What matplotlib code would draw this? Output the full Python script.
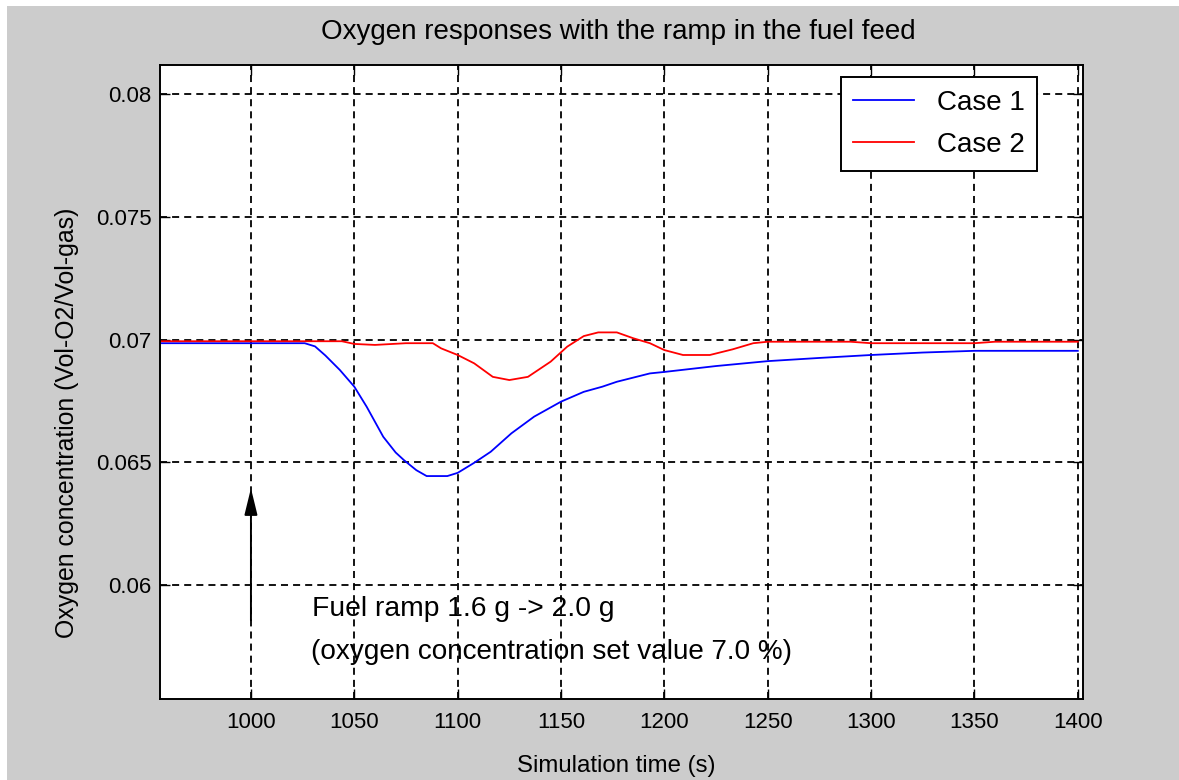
import matplotlib
matplotlib.use('Agg')
import matplotlib.pyplot as plt
from matplotlib import font_manager
from matplotlib.patches import Rectangle

plt.rcParams['font.family'] = ['Liberation Sans', 'DejaVu Sans']

# simulation output read at the plotted points
time_case1 = [956, 1000, 1026, 1031, 1036, 1043, 1050, 1056, 1064, 1070, 1074,
              1080, 1085, 1095, 1100, 1108, 1116, 1126, 1137, 1150, 1161, 1170,
              1177, 1193, 1200, 1225, 1250, 1275, 1300, 1325, 1350, 1400]
o2_case1 = [0.06985, 0.06985, 0.06985, 0.06972, 0.06935, 0.06876, 0.06808,
            0.06726, 0.06604, 0.0654, 0.06509, 0.06468, 0.06444, 0.06444,
            0.06457, 0.06498, 0.06543, 0.06618, 0.06686, 0.06747, 0.06787,
            0.06808, 0.06828, 0.06862, 0.06868, 0.06892, 0.06912, 0.06925,
            0.06937, 0.06947, 0.06954, 0.06954]

time_case2 = [956, 1044, 1050, 1060, 1075, 1088, 1092, 1100, 1108, 1117, 1125,
              1134, 1145, 1153, 1161, 1168, 1177, 1185, 1193, 1200, 1209, 1222,
              1233, 1243, 1250, 1290, 1300, 1350, 1360, 1400]
o2_case2 = [0.06993, 0.06993, 0.06982, 0.06978, 0.06985, 0.06985, 0.06964,
            0.06937, 0.06903, 0.06848, 0.06835, 0.06848, 0.0691, 0.06971,
            0.07014, 0.07029, 0.07029, 0.07005, 0.06985, 0.06957, 0.06937,
            0.06937, 0.0696, 0.06985, 0.06991, 0.06991, 0.06985, 0.06985,
            0.06991, 0.06991]

x_ticks = [1000, 1050, 1100, 1150, 1200, 1250, 1300, 1350, 1400]
y_ticks = [0.06, 0.065, 0.07, 0.075, 0.08]
y_tick_labels = ['0.06', '0.065', '0.07', '0.075', '0.08']

ramp_time = 1000
ramp_arrow = (0.05857, 0.06394)

# narrow face for the labels if it is installed, plain Liberation otherwise
try:
    font_manager.findfont(font_manager.FontProperties(family='Liberation Sans Narrow'),
                          fallback_to_default=False)
    narrow = ['Liberation Sans Narrow', 'Liberation Sans']
    k = 1 / 0.82
    leg_opts = dict(borderpad=0.3, labelspacing=0.3, handlelength=1.56, handletextpad=0.6)
except ValueError:
    narrow = ['Liberation Sans', 'DejaVu Sans']
    k = 1.0
    leg_opts = dict(borderpad=0.45, labelspacing=0.6, handlelength=2.2, handletextpad=0.8)

fig = plt.figure(figsize=(11.79, 7.80), dpi=100, facecolor='white')
# grey window background, white strip along top and left edge
fig.patches.append(Rectangle((7 / 1179, 0), 1, 1 - 6 / 780, transform=fig.transFigure,
                             facecolor='#cccccc', edgecolor='none', zorder=-10))

ax = fig.add_axes([0.1357, 0.1038, 0.7825, 0.8129])
ax.set_facecolor('white')

ax.plot(time_case1, o2_case1, color='#0000ff', lw=1.3, label='Case 1')
ax.plot(time_case2, o2_case2, color='#ff0000', lw=1.3, label='Case 2')

ax.set_xlim(956, 1402.3)
ax.set_ylim(0.05536, 0.08118)
ax.set_xticks(x_ticks)
ax.set_xticklabels([str(t) for t in x_ticks])
ax.set_yticks(y_ticks)
ax.set_yticklabels(y_tick_labels)

ax.grid(True, color='black', linestyle=(0, (3.9, 2.8)), linewidth=1.3)
ax.tick_params(direction='in', length=7, width=1.0, top=True, right=True,
               labelsize=16 * k, colors='black')
ax.tick_params(axis='x', pad=9)
ax.tick_params(axis='y', pad=6)
for lab in ax.get_xticklabels() + ax.get_yticklabels():
    lab.set_family(narrow)
for sp in ax.spines.values():
    sp.set_color('black')
    sp.set_linewidth(1.4)

# ramp start marker
ax.annotate('', xy=(ramp_time, ramp_arrow[1]), xytext=(ramp_time, ramp_arrow[0]),
            arrowprops=dict(arrowstyle='-|>,head_width=0.22,head_length=0.9',
                            color='black', lw=1.4, shrinkA=0, shrinkB=0,
                            mutation_scale=18))
ax.text(1029.5, 0.05902, 'Fuel ramp 1.6 g -> 2.0 g', fontsize=20.3 * k,
        family=narrow, ha='left', va='center')
ax.text(1029, 0.05727, '(oxygen concentration set value 7.0 %)', fontsize=20.1 * k,
        family=narrow, ha='left', va='center')

leg = ax.legend(loc='upper right', bbox_to_anchor=(0.9507, 0.981),
                prop=dict(family=narrow, size=20 * k),
                fancybox=False, framealpha=1, edgecolor='black',
                borderaxespad=0, **leg_opts)
leg.get_frame().set_linewidth(1.4)

fig.text(0.5242, 0.959, 'Oxygen responses with the ramp in the fuel feed',
         fontsize=20 * k, family=narrow, ha='center', va='center')
fig.text(0.5225, 0.0175, 'Simulation time (s)', fontsize=17.3 * k, family=narrow,
         ha='center', va='center')
fig.text(0.057, 0.4577, 'Oxygen concentration (Vol-O2/Vol-gas)', fontsize=17.9,
         ha='center', va='center', rotation=90)

fig.savefig('out.png', dpi=100, facecolor=fig.get_facecolor())
